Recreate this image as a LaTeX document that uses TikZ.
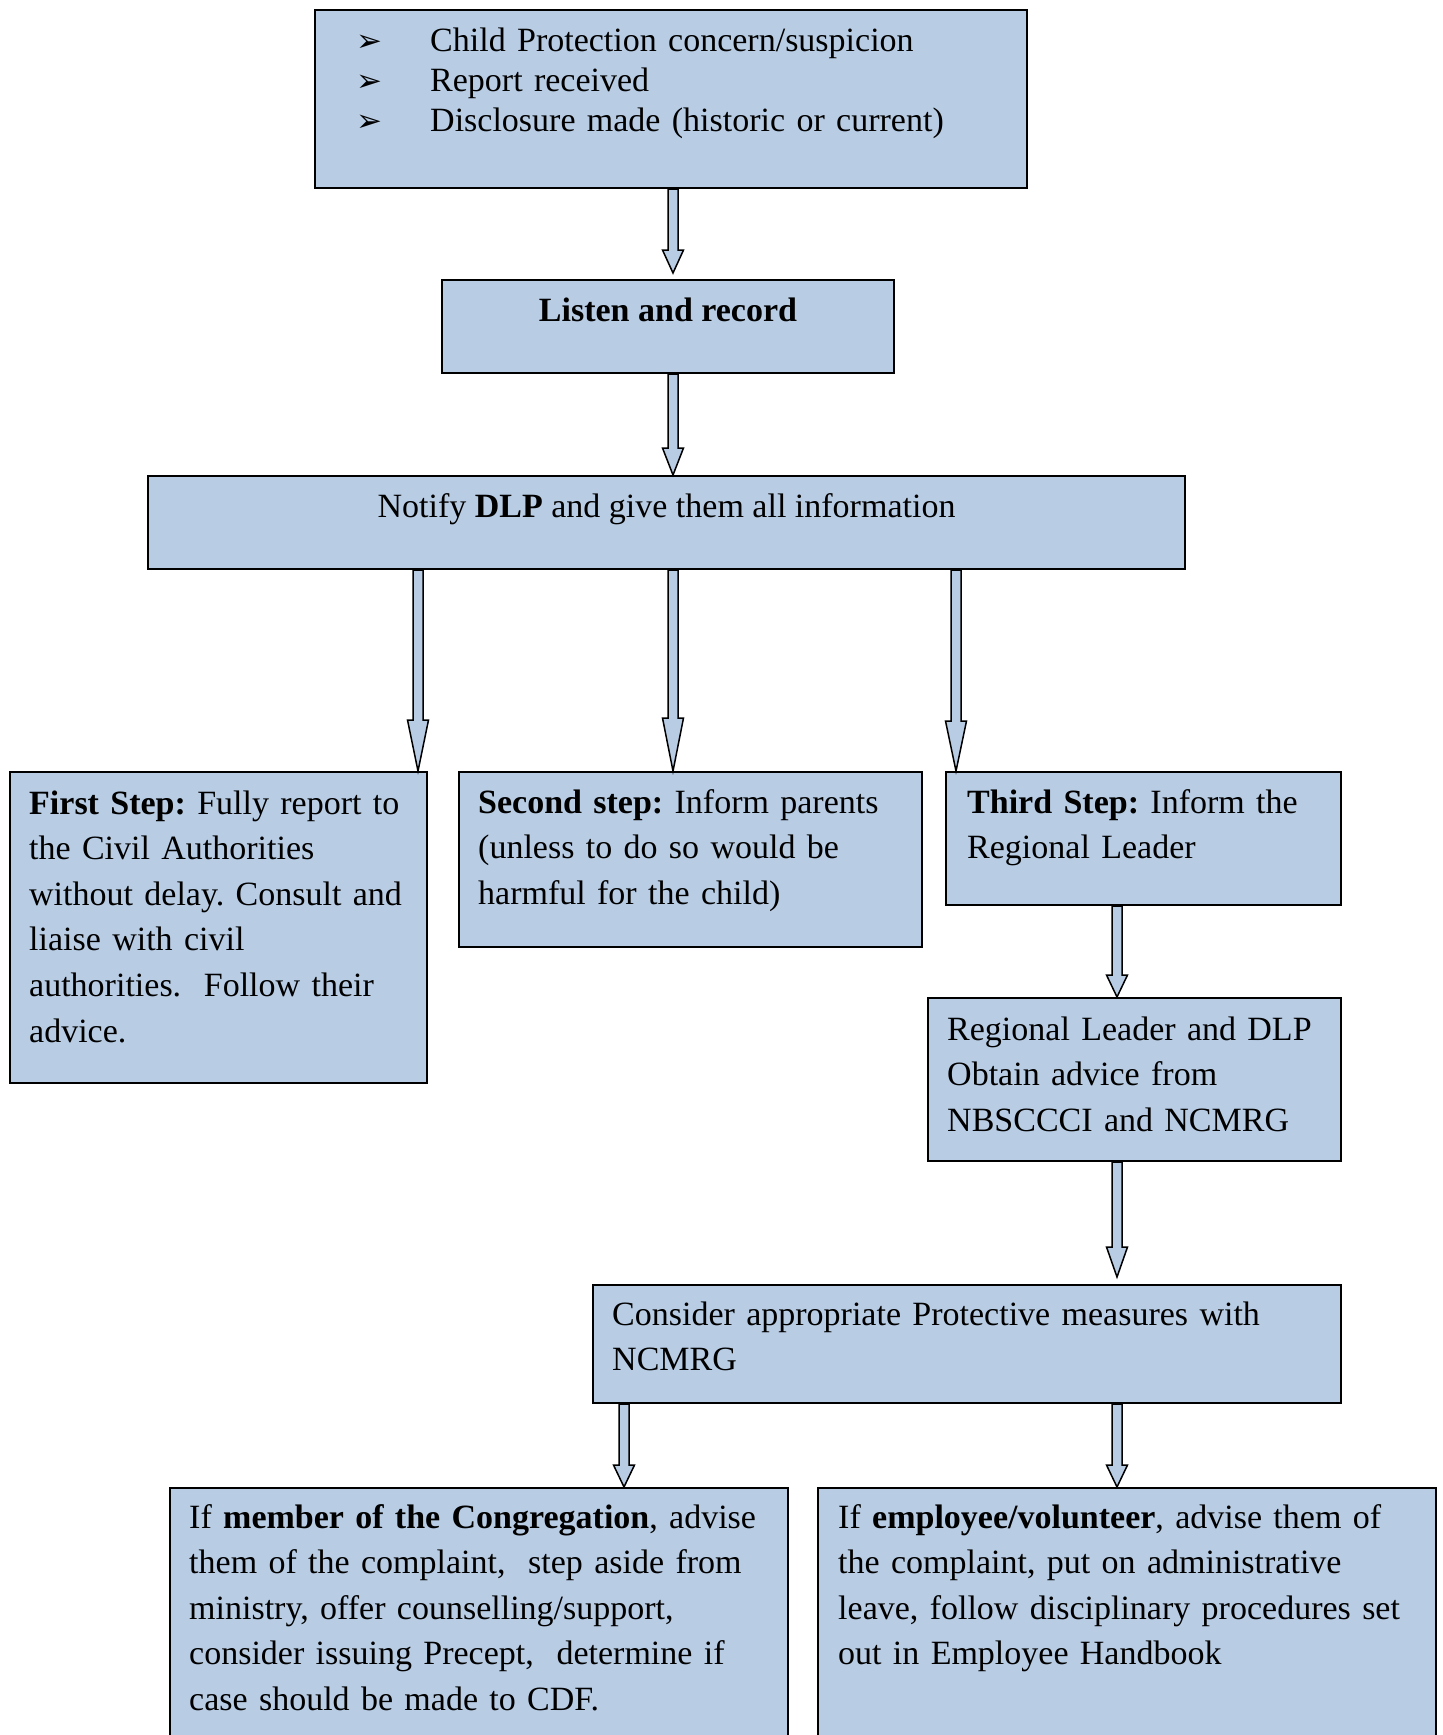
\documentclass[tikz,border=0pt]{standalone}
\usepackage{fontspec}
\setmainfont{Liberation Serif}
\newfontfamily\symfont{DejaVu Sans}
\usetikzlibrary{positioning}
\definecolor{boxblue}{HTML}{B8CCE4}

% block arrow: [gap]{x}{from node}{to node}{head length}
\newcommand{\flowarrow}[5][0pt]{%
  \path (#2,0 |- #3.south) coordinate (from) (#2,0 |- #4.north) coordinate (tip);
  \draw[arrowbody] ([xshift=-5pt]from) -- ([xshift=-5pt,yshift=#1+#5]tip)
    -- ([xshift=-10.5pt,yshift=#1+#5]tip) -- ([yshift=#1]tip)
    -- ([xshift=10.5pt,yshift=#1+#5]tip) -- ([xshift=5pt,yshift=#1+#5]tip)
    -- ([xshift=5pt]from) -- cycle;
}
\newcommand{\arrowbullet}{\makebox[74pt][l]{\symfont\fontsize{31}{31}\selectfont ➢}}

\begin{document}
\begin{tikzpicture}[x=1pt, y=-1pt,
  flowbox/.style={draw=black, fill=boxblue, line width=2pt, anchor=north west, inner sep=0pt},
  boxtext/.style={anchor=base west, inner sep=0pt, align=left, text width=#1, font=\fontsize{34}{45.6}\selectfont\frenchspacing},
  midtext/.style={anchor=base, inner sep=0pt, font=\fontsize{34}{45.6}\selectfont\frenchspacing},
  arrowbody/.style={draw=black, fill=boxblue, line width=1.5pt}]
  \useasboundingbox (0,0) rectangle (1443,1735);
  \fill[white] (0,0) rectangle (1443,1735);
  \clip (0,0) rectangle (1443,1735);

  % boxes
  \node[flowbox, minimum width=712pt, minimum height=178pt] (concern) at (314,9) {};
  \node[flowbox, minimum width=452pt, minimum height=93pt] (listen) at (441,279) {};
  \node[flowbox, minimum width=1037pt, minimum height=93pt] (notify) at (147,475) {};
  \node[flowbox, minimum width=417pt, minimum height=311pt] (first) at (9,771) {};
  \node[flowbox, minimum width=463pt, minimum height=175pt] (second) at (458,771) {};
  \node[flowbox, minimum width=395pt, minimum height=133pt] (third) at (945,771) {};
  \node[flowbox, minimum width=413pt, minimum height=163pt] (regional) at (927,997) {};
  \node[flowbox, minimum width=748pt, minimum height=118pt] (consider) at (592,1284) {};
  \node[flowbox, minimum width=618pt, minimum height=300pt] (member) at (169,1487) {};
  \node[flowbox, minimum width=618pt, minimum height=300pt] (employee) at (817,1487) {};

  % texts
  \node[boxtext=650pt, font=\fontsize{34}{40}\selectfont] (concern-txt) at ([xshift=42pt,yshift=-42pt]concern.north west)
    {\arrowbullet Child Protection concern/suspicion\\
     \arrowbullet Report received\\
     \arrowbullet Disclosure made (historic or current)};
  \node[midtext] (listen-txt) at ([yshift=-42pt]listen.north) {\textbf{Listen and record}};
  \node[midtext] (notify-txt) at ([yshift=-42pt]notify.north) {Notify \textbf{DLP} and give them all information};
  \node[boxtext=397pt] (first-txt) at ([xshift=20pt,yshift=-43pt]first.north west)
    {\textbf{First Step:} Fully report to\\ the Civil Authorities\\ without delay. Consult and\\
     liaise with civil\\ authorities.~ Follow their\\ advice.};
  \node[boxtext=443pt] (second-txt) at ([xshift=20pt,yshift=-42pt]second.north west)
    {\textbf{Second step:} Inform parents\\ (unless to do so would be\\ harmful for the child)};
  \node[boxtext=375pt] (third-txt) at ([xshift=22pt,yshift=-42pt]third.north west)
    {\textbf{Third Step:} Inform the\\ Regional Leader};
  \node[boxtext=393pt] (regional-txt) at ([xshift=20pt,yshift=-43pt]regional.north west)
    {Regional Leader and DLP\\ Obtain advice from\\ NBSCCCI and NCMRG};
  \node[boxtext=728pt] (consider-txt) at ([xshift=20pt,yshift=-41pt]consider.north west)
    {Consider appropriate Protective measures with\\ NCMRG};
  \node[boxtext=598pt] (member-txt) at ([xshift=20pt,yshift=-41pt]member.north west)
    {If \textbf{member of the Congregation}, advise\\ them of the complaint,~ step aside from\\
     ministry, offer counselling/support,\\ consider issuing Precept,~ determine if\\
     case should be made to CDF.};
  \node[boxtext=598pt] (employee-txt) at ([xshift=21pt,yshift=-41pt]employee.north west)
    {If \textbf{employee/volunteer}, advise them of\\ the complaint, put on administrative\\
     leave, follow disciplinary procedures set\\ out in Employee Handbook};

  % arrows
  \flowarrow[6pt]{673}{concern}{listen}{23pt}
  \flowarrow{673}{listen}{notify}{27pt}
  \flowarrow{418}{notify}{first}{51pt}
  \flowarrow{673}{notify}{second}{53pt}
  \flowarrow{956}{notify}{third}{50pt}
  \flowarrow{1117}{third}{regional}{22pt}
  \flowarrow[7pt]{1117}{regional}{consider}{30pt}
  \flowarrow{624}{consider}{member}{22pt}
  \flowarrow{1117}{consider}{employee}{22pt}
\end{tikzpicture}
\end{document}
